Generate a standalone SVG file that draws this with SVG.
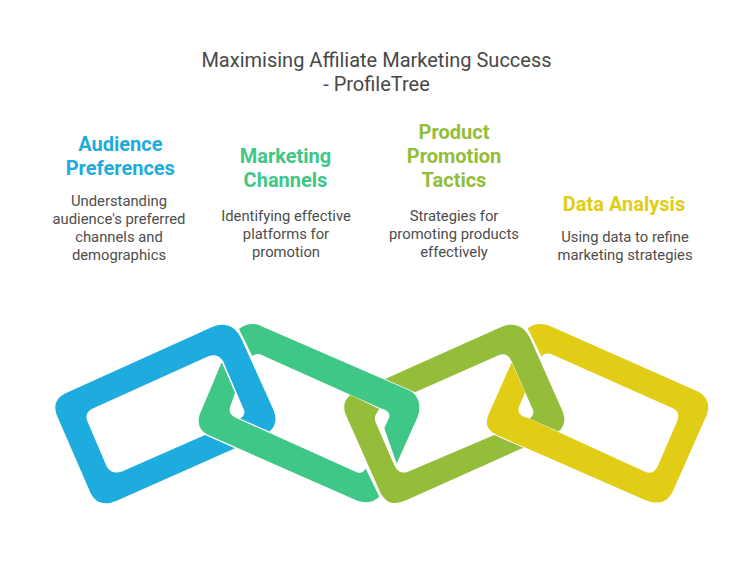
<svg xmlns="http://www.w3.org/2000/svg" width="756" height="576" viewBox="0 0 756 576">
<style>
text{font-family:Roboto,"Liberation Sans",sans-serif;text-anchor:middle}
.t{font-size:20px;fill:#484848}
.h{font-size:20px;font-weight:700}
.b{font-size:14.8px;fill:#4d4d4d}
</style>
<rect width="756" height="576" fill="#fff"/>
<g id="title"><text class="t" x="376.500" y="67">Maximising Affiliate Marketing Success</text><text class="t" x="376.500" y="91">- ProfileTree</text></g>
<g id="audience" fill="#1eacde">
<path d="M66.700 392.700L210 328C225 321 235 326 241 338L273.500 410C277 419 276 426 269.500 431.500L240 418.600C243 417 245.500 414 244 410L223.500 362C219 354 212 354 205 357.700L93.300 408.300C87 411 85 416 87.500 421.500L106 465C109 472 115 474 122 471.500L205 435L235 448.300L116.700 500.700C104 506 95 503 90 491.700L56.700 415C53 404 57 397 66.700 392.700Z"/>
<text class="h" x="120.300" y="151">Audience</text><text class="h" x="120.300" y="175">Preferences</text>
<text class="b" x="119" y="206">Understanding</text><text class="b" x="119" y="224">audience's preferred</text><text class="b" x="119" y="242">channels and</text><text class="b" x="119" y="260">demographics</text>
</g>
<g id="channels" fill="#3ec786">
<path d="M239 329C245 324 254 322 262 326.500L408.300 390C418 394 422 405 417.700 416.700L396.700 463.500L384.300 428.300L389 418C391 413 387 410 380 408L261.700 355C258 353 255 354 252.300 356ZM221.700 362.300L235 392.700L230 407.300C228.500 412 231 416.500 238.300 419L356.700 472.300C361 474 364 472 365.500 468.300L379.300 496.700C373 503 365 503 358 501L208.300 435C200 431 197 424 199.500 415Z"/>
<text class="h" x="285.500" y="163">Marketing</text><text class="h" x="285.500" y="187">Channels</text>
<text class="b" x="286" y="221">Identifying effective</text><text class="b" x="286" y="239">platforms for</text><text class="b" x="286" y="257">promotion</text>
</g>
<g id="promotion" fill="#94bd39">
<path d="M385 379L499 328C514 321 524 326 530 338L562 410C566 419 565 426 558.500 431.500L529.300 418.600C532 417 534.500 414 533 410L512 362C508 354 504 353 498 355.500L415 392.300ZM494.300 435L523.300 447.700L406.700 500C392 506 386 503 380 491.700L345.500 414C343 407 344 400 350.700 395L379.300 409L375.500 415C374.500 418 374.700 420 375.500 422L393.500 463.500C397 472 402 474 408 471.700Z"/>
<text class="h" x="454" y="139">Product</text><text class="h" x="454" y="163">Promotion</text><text class="h" x="454" y="187">Tactics</text>
<text class="b" x="454" y="221">Strategies for</text><text class="b" x="454" y="239">promoting products</text><text class="b" x="454" y="257">effectively</text>
</g>
<g id="analysis" fill="#e1cd15">
<path d="M527.700 328.300C534 323 543 322.500 551.700 326.700L696.700 391C706 395 711 404 706.700 415L672.700 491.700C667 503 657 505 645 500L496.700 435C487 430 485 425 488.300 415L511.700 362.300L525 392.300L519 406.700C517 413 521 416 528.300 418.300L645 471.700C651 474.500 655 472 658.300 465L677 421.500C680 413 677 410 671.700 407.700L553.300 355C549 352.500 544 353 541.700 356.700Z"/>
<text class="h" x="624" y="211">Data Analysis</text>
<text class="b" x="625" y="242">Using data to refine</text><text class="b" x="625" y="260">marketing strategies</text>
</g>
</svg>
